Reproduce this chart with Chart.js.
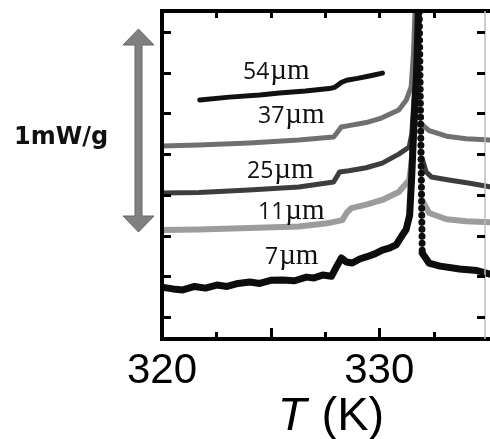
<!DOCTYPE html>
<html>
<head>
<meta charset="utf-8">
<script src="https://cdn.jsdelivr.net/npm/chart.js@4.4.1/dist/chart.umd.min.js"></script>
<style>
html, body { margin: 0; padding: 0; background: #fff; }
#wrap { width: 490px; height: 439px; }
</style>
</head>
<body>
<div id="wrap"><canvas id="dsc" width="490" height="439"></canvas></div>
<script>
// temperature (K) and heat flow (mW/g, curves offset) for each particle size
const t7 = [320.0, 320.5, 320.96, 321.5, 322.0, 322.52, 323.0, 323.5, 324.04, 324.5, 325.0, 325.55, 326.1, 326.65, 327.0, 327.39, 327.8, 328.03, 328.26, 328.49, 328.76, 329.1, 329.4, 329.8, 330.14, 330.5, 330.78, 331.05, 331.24, 331.4, 331.5, 331.6, 331.72, 331.83, 331.98, 332.29, 332.8, 333.7, 334.5, 335.1];
const v7 = [0.147, 0.138, 0.133, 0.150, 0.142, 0.157, 0.150, 0.165, 0.172, 0.165, 0.180, 0.182, 0.178, 0.196, 0.192, 0.206, 0.200, 0.246, 0.290, 0.270, 0.265, 0.285, 0.295, 0.310, 0.329, 0.340, 0.354, 0.400, 0.430, 0.500, 0.700, 0.950, 1.2, 1.6, 0.314, 0.265, 0.250, 0.236, 0.228, 0.210];

const t11 = [320.0, 321.7, 324.0, 326.3, 327.6, 328.3, 328.5, 328.72, 329.4, 330.14, 330.9, 331.38, 331.5, 331.65, 331.76, 331.97, 332.3, 333.1, 334.0, 335.1];
const v11 = [0.427, 0.430, 0.437, 0.445, 0.460, 0.476, 0.511, 0.535, 0.552, 0.575, 0.614, 0.673, 0.771, 1.0, 1.6, 0.575, 0.511, 0.480, 0.470, 0.465];

const t25 = [320.0, 321.7, 324.0, 326.3, 327.9, 328.07, 328.17, 328.6, 329.4, 330.14, 330.9, 331.38, 331.5, 331.62, 331.74, 331.97, 332.16, 332.4, 333.2, 334.1, 335.1];
const v25 = [0.609, 0.612, 0.624, 0.639, 0.663, 0.693, 0.712, 0.718, 0.733, 0.756, 0.800, 0.835, 0.900, 1.1, 1.6, 0.781, 0.712, 0.688, 0.673, 0.658, 0.639];

const t37 = [320.0, 321.7, 324.0, 326.3, 327.9, 328.05, 328.25, 328.6, 329.4, 330.1, 330.9, 331.25, 331.47, 331.58, 331.68, 331.97, 332.3, 333.1, 334.0, 335.1];
const v37 = [0.840, 0.845, 0.855, 0.869, 0.884, 0.904, 0.933, 0.940, 0.955, 0.977, 1.017, 1.066, 1.130, 1.300, 1.6, 0.945, 0.915, 0.888, 0.876, 0.869];

const t54 = [321.74, 323.1, 324.5, 325.4, 326.6, 327.7, 327.95, 328.1, 328.25, 328.5, 329.0, 329.6, 330.15];
const v54 = [1.066, 1.080, 1.090, 1.100, 1.110, 1.122, 1.128, 1.140, 1.152, 1.163, 1.172, 1.185, 1.198];

const sizes = ['7µm', '11µm', '25µm', '37µm', '54µm'];
const xTicks = [322.5, 325, 327.5, 330, 332.5];
const xLabels = [320, 330];
const yTicks = [0, 0.2, 0.4, 0.6, 0.8, 1.0, 1.2, 1.4];

function pts(t, v) {
    return t.map((x, i) => ({ x: x, y: v[i] }));
}

// the falling edge after the peak is drawn as dots
const dropDots = {
    borderDash: c => c.p0.parsed.y > 1.5 ? [0, 7] : undefined
};

function series(label, t, v, color, width) {
    return {
        label: label,
        data: pts(t, v),
        borderColor: color,
        borderWidth: width,
        borderCapStyle: 'round',
        borderJoinStyle: 'round',
        pointRadius: 0,
        tension: 0,
        segment: dropDots
    };
}

const decor = {
    id: 'decor',
    afterDraw(chart) {
        const ctx = chart.ctx;
        const a = chart.chartArea;
        const xs = chart.scales.x;
        const ys = chart.scales.y;
        const boxRight = 485;

        ctx.save();

        // frame
        ctx.strokeStyle = '#000';
        ctx.lineWidth = 4;
        ctx.beginPath();
        ctx.moveTo(a.left - 2, a.top);
        ctx.lineTo(490, a.top);
        ctx.moveTo(a.left - 2, a.bottom);
        ctx.lineTo(490, a.bottom);
        ctx.moveTo(a.left, a.top);
        ctx.lineTo(a.left, a.bottom);
        ctx.stroke();
        ctx.strokeStyle = '#bdbdbd';
        ctx.lineWidth = 1.5;
        ctx.beginPath();
        ctx.moveTo(boxRight, a.top);
        ctx.lineTo(boxRight, a.bottom);
        ctx.stroke();

        // inward ticks
        ctx.strokeStyle = '#000';
        ctx.lineWidth = 3;
        ctx.beginPath();
        yTicks.forEach(v => {
            const y = Math.round(ys.getPixelForValue(v)) + 0.5;
            ctx.moveTo(a.left, y);
            ctx.lineTo(a.left + 9, y);
            ctx.moveTo(boxRight, y);
            ctx.lineTo(boxRight - 8, y);
        });
        xTicks.forEach(t => {
            const x = Math.round(xs.getPixelForValue(t)) + 0.5;
            const len = t % 5 === 0 ? 11 : 7;
            ctx.moveTo(x, a.bottom);
            ctx.lineTo(x, a.bottom - len);
            ctx.moveTo(x, a.top);
            ctx.lineTo(x, a.top + 7);
        });
        ctx.stroke();

        // tick labels
        ctx.fillStyle = '#000';
        ctx.font = '42px "Liberation Sans", Arial, sans-serif';
        ctx.textAlign = 'center';
        ctx.textBaseline = 'alphabetic';
        xLabels.forEach(t => {
            ctx.fillText(String(t), xs.getPixelForValue(t), 383);
        });

        // axis title: italic T, upright (K)
        const italic = 'italic 47px "Liberation Sans", Arial, sans-serif';
        const upright = '47px "Liberation Sans", Arial, sans-serif';
        ctx.textAlign = 'left';
        ctx.font = italic;
        const wT = ctx.measureText('T').width;
        ctx.font = upright;
        const wK = ctx.measureText(' (K)').width;
        const x0 = 330 - (wT + wK) / 2;
        ctx.font = italic;
        ctx.fillText('T', x0, 430);
        ctx.font = upright;
        ctx.fillText(' (K)', x0 + wT + 2, 430);

        // sample size labels
        const spots = [[265, 264], [258, 219], [247, 178], [258, 123], [243, 79]];
        sizes.forEach((s, i) => {
            const num = s.replace('µm', '');
            let x = spots[i][0];
            const y = spots[i][1];
            ctx.fillStyle = '#111';
            ctx.font = '23px "Open Sans", sans-serif';
            ctx.fillText(num, x, y);
            x += ctx.measureText(num).width + 1;
            ctx.font = '29px "Liberation Serif", serif';
            ctx.fillText('µm', x, y);
        });

        // scale arrow
        ctx.fillStyle = '#808080';
        ctx.strokeStyle = '#666';
        ctx.lineWidth = 1;
        ctx.beginPath();
        ctx.moveTo(138.5, 29);
        ctx.lineTo(154, 45);
        ctx.lineTo(142, 45);
        ctx.lineTo(142, 216);
        ctx.lineTo(154, 216);
        ctx.lineTo(138.5, 232);
        ctx.lineTo(123, 216);
        ctx.lineTo(135, 216);
        ctx.lineTo(135, 45);
        ctx.lineTo(123, 45);
        ctx.closePath();
        ctx.fill();
        ctx.stroke();

        ctx.fillStyle = '#111';
        ctx.font = 'bold 24px "DejaVu Sans", sans-serif';
        ctx.fillText('1mW/g', 14, 144);

        ctx.restore();
    }
};

new Chart(document.getElementById('dsc'), {
    type: 'line',
    data: {
        datasets: [
            series(sizes[0], t7, v7, '#0d0d0d', 7),
            series(sizes[4], t54, v54, '#111111', 5),
            series(sizes[3], t37, v37, '#707070', 5),
            series(sizes[2], t25, v25, '#3d3d3d', 5),
            series(sizes[1], t11, v11, '#9c9c9c', 6)
        ]
    },
    options: {
        responsive: false,
        animation: false,
        layout: { padding: { left: 162, top: 11, right: 0, bottom: 100 } },
        plugins: {
            legend: { display: false },
            tooltip: { enabled: false }
        },
        scales: {
            x: { type: 'linear', min: 320, max: 335.1, display: false },
            y: { type: 'linear', min: -0.108, max: 1.503, display: false }
        }
    },
    plugins: [decor]
});
</script>
</body>
</html>
